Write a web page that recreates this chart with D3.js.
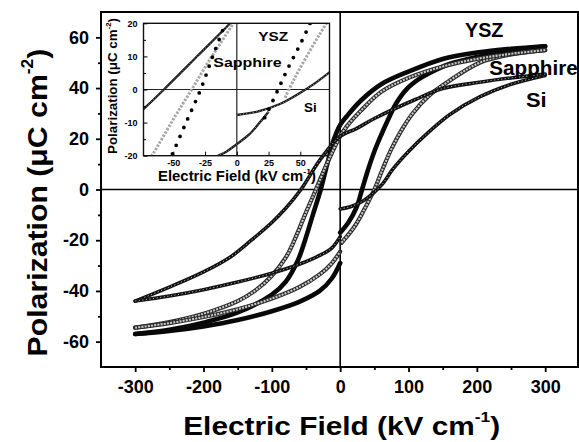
<!DOCTYPE html>
<html>
<head>
<meta charset="utf-8">
<script src="https://cdn.jsdelivr.net/npm/d3@7"></script>
<style>
  html, body { margin: 0; padding: 0; background: #fff; }
  svg { display: block; }
  text { font-family: "Liberation Sans", Arial, Helvetica, sans-serif; font-weight: bold; fill: #000; }
</style>
</head>
<body>
<svg id="chart" width="579" height="442"></svg>
<script>
// ---------------- DATA (E in kV/cm, P in uC/cm^2) ----------------
// Main panel: each film = rise (0 -> +300), fall (+300 -> -300), return (-300 -> 0)
const yszRise = [[0,-17],[12,-13],[24,-7],[32,0],[41,8],[50,15],[60,21.5],[70,27.5],[82,34],[97,39.5],[115,43.5],[131,46],[160,49.5],[204,52.5],[250,54.8],[300,56.5]];
const yszFall = [[300,56.5],[250,55.5],[200,54],[150,51.5],[100,46.5],[60,41.5],[30,35],[10,29],[0,25.5],[-9.5,19.5],[-19,10],[-28.5,0],[-40,-10],[-52,-20.5],[-62,-28],[-80,-36.5],[-100,-41.5],[-150,-48.5],[-200,-52.5],[-250,-55.3],[-300,-57]];
const yszReturn = [[-300,-57],[-250,-55.8],[-200,-54],[-150,-51.5],[-100,-48],[-60,-44.3],[-30,-40],[-12,-35],[0,-29]];

const sapRise = [[2,-21],[20,-15],[35,-8],[50,0],[62,8],[75,16],[90,23.5],[106,30],[130,37],[155,42],[204,50],[250,53.3],[300,55]];
const sapFall = [[300,55],[250,53.5],[200,51.5],[150,48.5],[100,44],[60,38.5],[30,31],[10,25],[0,21],[-12,14.5],[-22.3,8.4],[-35.5,0],[-50,-9],[-67,-20],[-80,-27],[-100,-34],[-125,-40],[-150,-44],[-200,-49],[-250,-52.3],[-300,-54.5]];
const sapReturn = [[-300,-54.5],[-250,-52.7],[-200,-50.3],[-150,-47.2],[-100,-43],[-60,-38.5],[-30,-33.5],[-12,-29],[0,-24.5]];

const siRise = [[0,-7.7],[17,-6.6],[34,-4.4],[50,-1],[62,2.2],[77,8],[100,15],[131,23],[160,29.5],[204,36.5],[250,41.5],[300,45]];
const siFall = [[300,45.5],[250,44],[204,42.3],[150,39.8],[110,35.5],[50,28],[23.7,24],[0,21],[-30,11.5],[-57.4,0],[-80,-7.5],[-100,-13],[-130,-20],[-160,-26.5],[-200,-32.5],[-250,-38.5],[-300,-44]];
const siReturn = [[-300,-44],[-250,-42],[-200,-39.5],[-150,-36.5],[-100,-33],[-60,-29.5],[-30,-26],[-12,-23],[0,-18.6]];

// Inset panel (low-field zoom)
const insetYszFall = [[-54,-22],[-52,-20.5],[-40,-10],[-28.5,0],[-19,10],[-9.5,19.5],[-7,22]];
const insetYszRise = [[22,-8.5],[24,-7],[32.5,0],[41,7],[50,13.7],[57.7,20],[60.5,22.5]];
const insetSapFall = [[-71,-22],[-67,-20],[-50,-9],[-35.5,0],[-22.3,8.4],[-12,14.5],[-2.7,20],[0,21.5]];
const insetSapRise = [[38,-2.5],[45,3],[55,10],[65,16.5],[74,22]];
const insetSiFall = [[-75,-6.5],[-57.4,0],[-30,10.5],[-5.3,20],[-2,21.5]];
const insetSiRise = [[0,-7.7],[17,-6.6],[34,-4.4],[50,-1],[62,2],[74,5.5]];
const insetSiReturn = [[-18,-20.5],[-8,-18.7],[0,-16.5],[10,-13.5],[18,-10],[25,-6.7]];

// Ticks & labels
const xMajor = [-300,-200,-100,0,100,200,300];
const xMinor = [-250,-150,-50,50,150,250];
const yMajor = [-60,-40,-20,0,20,40,60];
const yMinor = [-50,-30,-10,10,30,50];
const insetXTicks = [-50,-25,0,25,50];
const insetYTicks = [-20,-10,0,10,20];
const insetYMinor = [-15,-5,5,15];
const seriesNames = ["YSZ","Sapphire","Si"];

// ---------------- DRAWING ----------------
const svg = d3.select("#chart");
svg.append("rect").attr("width",579).attr("height",442).attr("fill","#fff");

const x = d3.scaleLinear().domain([-350,348]).range([101,578]);
const y = d3.scaleLinear().domain([-70,70]).range([367,12]);

function styleAxis(g, fs){
  g.select(".domain").remove();
  g.selectAll(".tick line").attr("stroke","#000").attr("stroke-width",1.8);
  g.selectAll(".tick text").style("font-size",fs+"px").attr("fill","#000");
}

// axes
const fmt = d => String(d);
const gx = svg.append("g").attr("transform",`translate(0,367)`)
  .call(d3.axisBottom(x).tickValues(xMajor).tickSize(5).tickPadding(8).tickFormat(fmt));
styleAxis(gx,18);
const gxm = svg.append("g").attr("transform",`translate(0,367)`)
  .call(d3.axisBottom(x).tickValues(xMinor).tickSize(3).tickFormat(""));
styleAxis(gxm,1);
const gy = svg.append("g").attr("transform",`translate(101,0)`)
  .call(d3.axisLeft(y).tickValues(yMajor).tickSize(5).tickPadding(7).tickFormat(fmt));
styleAxis(gy,18);
const gym = svg.append("g").attr("transform",`translate(101,0)`)
  .call(d3.axisLeft(y).tickValues(yMinor).tickSize(3).tickFormat(""));
styleAxis(gym,1);

// zero lines
svg.append("line").attr("x1",x(-350)).attr("x2",x(348)).attr("y1",y(0)).attr("y2",y(0))
  .attr("stroke","#000").attr("stroke-width",1.6);
svg.append("line").attr("x1",x(0)).attr("x2",x(0)).attr("y1",y(70)).attr("y2",y(-70))
  .attr("stroke","#000").attr("stroke-width",1.6);

// frame
svg.append("rect").attr("x",101).attr("y",12).attr("width",477).attr("height",355)
  .attr("fill","none").attr("stroke","#000").attr("stroke-width",2);

// ---------- Inset ----------
const xi = d3.scaleLinear().domain([-73.5,73]).range([143.5,329.5]);
const yi = d3.scaleLinear().domain([-20,20]).range([155.7,23.3]);
const inset = svg.append("g");
inset.append("rect").attr("x",143.5).attr("y",23.3).attr("width",186).attr("height",132.4)
  .attr("fill","#fff");
svg.append("clipPath").attr("id","clipInset").append("rect")
  .attr("x",143.5).attr("y",23.3).attr("width",186).attr("height",132.4);
inset.append("line").attr("x1",143.5).attr("x2",329.5).attr("y1",yi(0)).attr("y2",yi(0))
  .attr("stroke","#222").attr("stroke-width",1.2);
inset.append("line").attr("x1",xi(0)).attr("x2",xi(0)).attr("y1",23.3).attr("y2",155.7)
  .attr("stroke","#222").attr("stroke-width",1.2);

const lineI = d3.line().x(d=>xi(d[0])).y(d=>yi(d[1])).curve(d3.curveCatmullRom.alpha(0.5));
const ic = inset.append("g").attr("clip-path","url(#clipInset)");
// Si inset: thin rope of small markers
[insetSiFall, insetSiRise, insetSiReturn].forEach(dat=>{
  ic.append("path").attr("d",lineI(dat)).attr("fill","none").attr("stroke","#1a1a1a").attr("stroke-width",2.3);
  ic.append("path").attr("d",lineI(dat)).attr("fill","none").attr("stroke","#fff").attr("stroke-width",0.7)
    .attr("stroke-dasharray","1 2.2").attr("opacity",0.8);
});
// Sapphire inset: grey markers
[insetSapFall, insetSapRise].forEach(dat=>{
  ic.append("path").attr("d",lineI(dat)).attr("fill","none").attr("stroke","#a8a8a8").attr("stroke-width",3)
    .attr("stroke-dasharray","2.4 1.4");
});
// YSZ inset: big black dots
[insetYszFall, insetYszRise].forEach(dat=>{
  ic.append("path").attr("d",lineI(dat)).attr("fill","none").attr("stroke","#000").attr("stroke-width",3.8)
    .attr("stroke-linecap","round").attr("stroke-dasharray","0 9.5");
});

inset.append("rect").attr("x",143.5).attr("y",23.3).attr("width",186).attr("height",132.4)
  .attr("fill","none").attr("stroke","#111").attr("stroke-width",1.4);

const gix = inset.append("g").attr("transform","translate(0,155.7)")
  .call(d3.axisBottom(xi).tickValues(insetXTicks).tickSizeInner(-4).tickSizeOuter(0).tickPadding(4).tickFormat(fmt));
styleAxis(gix,9);
gix.selectAll(".tick line").attr("stroke-width",1);
const giy = inset.append("g").attr("transform","translate(143.5,0)")
  .call(d3.axisLeft(yi).tickValues(insetYTicks).tickSizeInner(-4).tickSizeOuter(0).tickPadding(6).tickFormat(fmt));
styleAxis(giy,9);
giy.selectAll(".tick line").attr("stroke-width",1);
const giym = inset.append("g").attr("transform","translate(143.5,0)")
  .call(d3.axisLeft(yi).tickValues(insetYMinor).tickSizeInner(-2.5).tickSizeOuter(0).tickFormat(""));
styleAxis(giym,1);
giym.selectAll(".tick line").attr("stroke-width",1);

// helper for titles with superscript, stretched to a target length
function titleText(parent, main, sup, fs, cx, cy, rot, target){
  const t = parent.append("text").attr("text-anchor","middle").style("font-size",fs+"px");
  t.append("tspan").text(main);
  t.append("tspan").attr("dy",-0.5*fs).style("font-size",(0.58*fs)+"px").text(sup);
  t.append("tspan").attr("dy",0.5*fs).text(")");
  const w = t.node().getBBox().width;
  const k = target / w;
  t.attr("transform",`translate(${cx},${cy}) rotate(${rot}) scale(${k},1)`);
  return t;
}
function fitText(parent, str, fs, x0, base, target){
  const t = parent.append("text").style("font-size",fs+"px").text(str);
  const w = t.node().getBBox().width;
  t.attr("transform",`translate(${x0},${base}) scale(${target/w},1)`);
  return t;
}

// inset titles
titleText(inset, "Electric Field (kV cm", "-1", 14, 237, 181, 0, 158);
titleText(inset, "Polarization (\u03bcC cm", "-2", 12.5, 117, 86, -90, 136);
// inset labels
fitText(inset, seriesNames[0], 13, 258.3, 40.7, 30);
fitText(inset, seriesNames[1], 13, 213.3, 66.5, 68.4);
fitText(inset, seriesNames[2], 13, 304, 111.7, 12.7);

// ---------- Main curves ----------
svg.append("clipPath").attr("id","clipMain").append("rect")
  .attr("x",101).attr("y",12).attr("width",477).attr("height",355);
const line = d3.line().x(d=>x(d[0])).y(d=>y(d[1])).curve(d3.curveCatmullRom.alpha(0.5));
const mc = svg.append("g").attr("clip-path","url(#clipMain)");

[yszRise, yszFall, yszReturn].forEach(dat=>{
  mc.append("path").attr("d",line(dat)).attr("fill","none").attr("stroke","#080808")
    .attr("stroke-width",4.6).attr("stroke-linecap","round").attr("stroke-linejoin","round");
});
[sapRise, sapFall, sapReturn].forEach(dat=>{
  mc.append("path").attr("d",line(dat)).attr("fill","none").attr("stroke","#2a2a2a")
    .attr("stroke-width",4.2).attr("stroke-linecap","round");
  mc.append("path").attr("d",line(dat)).attr("fill","none").attr("stroke","#c9c9c9")
    .attr("stroke-width",2.1).attr("stroke-dasharray","2 1.2");
});
[siRise, siFall, siReturn].forEach(dat=>{
  mc.append("path").attr("d",line(dat)).attr("fill","none").attr("stroke","#111")
    .attr("stroke-width",3.6).attr("stroke-linecap","round");
  mc.append("path").attr("d",line(dat)).attr("fill","none").attr("stroke","#fff")
    .attr("stroke-width",0.9).attr("stroke-dasharray","1.2 2.4").attr("opacity",0.75);
});

// main labels
fitText(svg, seriesNames[0], 20, 465, 37.3, 38.5);
fitText(svg, seriesNames[1], 20, 489.3, 75, 88.5);
fitText(svg, seriesNames[2], 20, 526, 107.3, 20.7);

// main axis titles
titleText(svg, "Electric Field (kV cm", "-1", 26, 341.7, 435, 0, 317);
titleText(svg, "Polarization (\u03bcC cm", "-2", 27, 46.7, 202.5, -90, 308);
</script>
</body>
</html>
